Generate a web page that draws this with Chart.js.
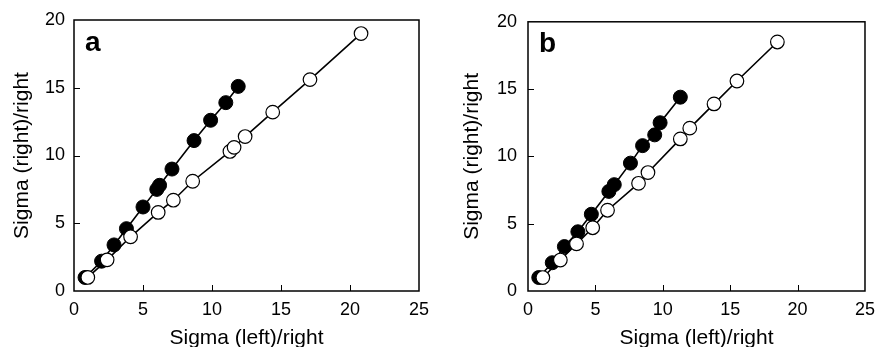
<!DOCTYPE html>
<html>
<head>
<meta charset="utf-8">
<script src="https://cdn.jsdelivr.net/npm/chart.js@4/dist/chart.umd.min.js"></script>
<style>
    html, body { margin: 0; padding: 0; background: #fff; }
    #wrap { position: relative; width: 883px; height: 347px; }
    .panel { position: absolute; top: 0; height: 347px; }
    #panel-a { left: 0; width: 441px; }
    #panel-b { left: 441px; width: 442px; }
</style>
</head>
<body>
<div id="wrap">
    <div class="panel" id="panel-a"><canvas id="chart-a"></canvas></div>
    <div class="panel" id="panel-b"><canvas id="chart-b"></canvas></div>
</div>
<script>
// panel a
const aFilledX = [0.8, 2.0, 2.9, 3.8, 5.0, 6.0, 6.2, 7.1, 8.7, 9.9, 11.0, 11.9];
const aFilledY = [1.0, 2.2, 3.4, 4.6, 6.2, 7.5, 7.8, 9.0, 11.1, 12.6, 13.9, 15.1];
const aOpenX = [1.0, 2.4, 4.1, 6.1, 7.2, 8.6, 11.3, 11.6, 12.4, 14.4, 17.1, 20.8];
const aOpenY = [1.0, 2.3, 4.0, 5.8, 6.7, 8.1, 10.3, 10.6, 11.4, 13.2, 15.6, 19.0];

// panel b
const bFilledX = [0.8, 1.8, 2.7, 3.7, 4.7, 6.0, 6.4, 7.6, 8.5, 9.4, 9.8, 11.3];
const bFilledY = [1.0, 2.1, 3.3, 4.4, 5.7, 7.4, 7.9, 9.5, 10.8, 11.6, 12.5, 14.4];
const bOpenX = [1.1, 2.4, 3.6, 4.8, 5.9, 8.2, 8.9, 11.3, 12.0, 13.8, 15.5, 18.5];
const bOpenY = [1.0, 2.3, 3.5, 4.7, 6.0, 8.0, 8.8, 11.3, 12.1, 13.9, 15.6, 18.5];

const xTicks = [0, 5, 10, 15, 20, 25];
const yTicks = [0, 5, 10, 15, 20];

const fontFamily = '"Liberation Sans", Arial, sans-serif';

function toPoints(xs, ys) {
    return xs.map((x, i) => ({ x: x, y: ys[i] }));
}

// box around the plot area plus short inward tick marks
const framePlugin = {
    id: 'frame',
    beforeDatasetsDraw(chart) {
        const { ctx, chartArea } = chart;
        const xs = chart.scales.x;
        const ys = chart.scales.y;
        ctx.save();
        ctx.strokeStyle = '#000';
        ctx.lineWidth = 1.5;
        ctx.strokeRect(chartArea.left, chartArea.top, chartArea.right - chartArea.left, chartArea.bottom - chartArea.top);
        ctx.lineWidth = 1;
        ctx.beginPath();
        xs.ticks.forEach(t => {
            if (t.value <= xs.min || t.value >= xs.max) return;
            const px = Math.round(xs.getPixelForValue(t.value)) + 0.5;
            ctx.moveTo(px, chartArea.bottom);
            ctx.lineTo(px, chartArea.bottom - 6);
        });
        ys.ticks.forEach(t => {
            if (t.value <= ys.min || t.value >= ys.max) return;
            const py = Math.round(ys.getPixelForValue(t.value)) + 0.5;
            ctx.moveTo(chartArea.left, py);
            ctx.lineTo(chartArea.left + 6, py);
        });
        ctx.stroke();

        const letter = chart.options.plugins.frame.letter;
        ctx.fillStyle = '#000';
        ctx.font = 'bold 28px ' + fontFamily;
        ctx.textBaseline = 'alphabetic';
        ctx.textAlign = 'left';
        ctx.fillText(letter, chartArea.left + 11, chartArea.top + 30.5);
        ctx.restore();
    }
};

function makePanel(id, letter, filledX, filledY, openX, openY, yAxisWidth, rightPad, yTitlePad, yTickPad) {
    const ctx = document.getElementById(id);
    return new Chart(ctx, {
        type: 'scatter',
        data: {
            datasets: [{
                label: 'open',
                data: toPoints(openX, openY),
                showLine: true,
                borderColor: '#000',
                borderWidth: 1.6,
                backgroundColor: '#fff',
                pointBackgroundColor: '#fff',
                pointBorderColor: '#000',
                pointBorderWidth: 1.2,
                pointRadius: 6.8,
                tension: 0
            }, {
                label: 'filled',
                data: toPoints(filledX, filledY),
                showLine: true,
                borderColor: '#000',
                borderWidth: 1.6,
                backgroundColor: '#000',
                pointBackgroundColor: '#000',
                pointBorderColor: '#000',
                pointBorderWidth: 1,
                pointRadius: 7,
                tension: 0
            }]
        },
        options: {
            responsive: true,
            maintainAspectRatio: false,
            animation: false,
            events: [],
            layout: {
                padding: { top: 20, right: rightPad, left: 0, bottom: 0 }
            },
            plugins: {
                legend: { display: false },
                tooltip: { enabled: false },
                frame: { letter: letter }
            },
            scales: {
                x: {
                    type: 'linear',
                    min: 0,
                    max: 25,
                    afterBuildTicks: scale => {
                        scale.ticks = xTicks.map(v => ({ value: v }));
                    },
                    afterFit: scale => { scale.height = 56; },
                    grid: { display: false, drawTicks: false },
                    border: { display: false },
                    ticks: {
                        color: '#000',
                        padding: 8,
                        maxRotation: 0,
                        font: { family: fontFamily, size: 18 }
                    },
                    title: {
                        display: true,
                        text: 'Sigma (left)/right',
                        color: '#000',
                        padding: 0,
                        font: { family: fontFamily, size: 21, lineHeight: 0.85 }
                    }
                },
                y: {
                    type: 'linear',
                    min: 0,
                    max: 20,
                    afterBuildTicks: scale => {
                        scale.ticks = yTicks.map(v => ({ value: v }));
                    },
                    afterFit: scale => { scale.width = yAxisWidth; },
                    grid: { display: false, drawTicks: false },
                    border: { display: false },
                    ticks: {
                        color: '#000',
                        padding: yTickPad,
                        font: { family: fontFamily, size: 18 }
                    },
                    title: {
                        display: true,
                        text: 'Sigma (right)/right',
                        color: '#000',
                        padding: { top: yTitlePad, bottom: 0 },
                        font: { family: fontFamily, size: 21, lineHeight: 1 }
                    }
                }
            }
        },
        plugins: [framePlugin]
    });
}

makePanel('chart-a', 'a', aFilledX, aFilledY, aOpenX, aOpenY, 74, 22, 12, 9);
makePanel('chart-b', 'b', bFilledX, bFilledY, bOpenX, bOpenY, 87, 11, 21, 11);
</script>
</body>
</html>
